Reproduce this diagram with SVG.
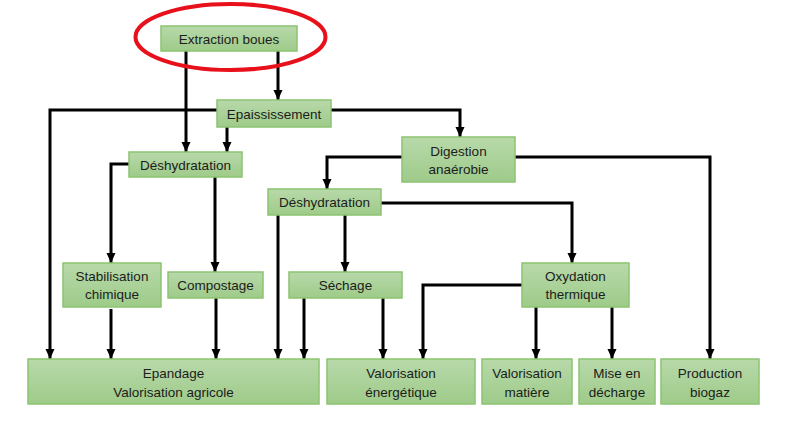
<svg xmlns="http://www.w3.org/2000/svg" width="800" height="432" viewBox="0 0 800 432">
<defs>
<linearGradient id="g" x1="0" y1="0" x2="0" y2="1">
<stop offset="0" stop-color="#b8d9aa"/>
<stop offset="1" stop-color="#9ecb89"/>
</linearGradient>
<marker id="ah" markerUnits="userSpaceOnUse" markerWidth="12" markerHeight="12" viewBox="0 0 12 12" refX="10" refY="6" orient="auto">
<path d="M0,1.5 L10,6 L0,10.5 Z" fill="#000"/>
</marker>
<style>
.box{fill:url(#g);stroke:#8cc371;stroke-width:1.5}
.t{font-family:"Liberation Sans",Arial,sans-serif;font-size:13.5px;fill:#1c1c1c;text-anchor:middle}
.c{fill:none;stroke:#000;stroke-width:3}
.a{marker-end:url(#ah)}
</style>
</defs>
<rect width="800" height="432" fill="#fff"/>
<g id="connectors">
<path class="c a" d="M186,51 V152"/>
<path class="c a" d="M278,51 V100"/>
<path class="c a" d="M227,127 V152"/>
<path class="c a" d="M217,110 H50 V359"/>
<path class="c a" d="M331,110 H460 V137"/>
<path class="c a" d="M129,164 H111 V263"/>
<path class="c a" d="M215,177 V272"/>
<path class="c a" d="M111,309 V359"/>
<path class="c a" d="M216,298 V359"/>
<path class="c a" d="M402,157 H327 V189"/>
<path class="c a" d="M515,157 H710 V359"/>
<path class="c a" d="M381,203 H572 V263"/>
<path class="c a" d="M278,215 V359"/>
<path class="c a" d="M345,215 V272"/>
<path class="c a" d="M304,298 V359"/>
<path class="c a" d="M383,298 V359"/>
<path class="c a" d="M522,285 H423 V359"/>
<path class="c a" d="M536,307 V359"/>
<path class="c a" d="M612,307 V359"/>
</g>
<g id="extraction">
<rect class="box" x="161" y="26" width="136" height="25"/>
<text class="t" x="229" y="43.5">Extraction boues</text>
</g>
<ellipse id="highlight" cx="230.5" cy="37" rx="95" ry="33" fill="none" stroke="#e8101a" stroke-width="4"/>
<g id="epaississement">
<rect class="box" x="217" y="100" width="114" height="27"/>
<text class="t" x="274" y="118.5">Epaississement</text>
</g>
<g id="deshydratation1">
<rect class="box" x="129" y="152" width="113" height="25"/>
<text class="t" x="185.5" y="169.5">Déshydratation</text>
</g>
<g id="digestion">
<rect class="box" x="402" y="137" width="113" height="45"/>
<text class="t" x="458.5" y="156">Digestion</text>
<text class="t" x="458.5" y="174">anaérobie</text>
</g>
<g id="deshydratation2">
<rect class="box" x="268" y="189" width="113" height="26"/>
<text class="t" x="324.5" y="207">Déshydratation</text>
</g>
<g id="stabilisation">
<rect class="box" x="63" y="263" width="98" height="44"/>
<text class="t" x="112" y="281">Stabilisation</text>
<text class="t" x="112" y="299">chimique</text>
</g>
<g id="compostage">
<rect class="box" x="168" y="272" width="95" height="26"/>
<text class="t" x="215.5" y="290">Compostage</text>
</g>
<g id="sechage">
<rect class="box" x="289" y="272" width="113" height="26"/>
<text class="t" x="345.5" y="290">Séchage</text>
</g>
<g id="oxydation">
<rect class="box" x="522" y="263" width="107" height="44"/>
<text class="t" x="575.5" y="281">Oxydation</text>
<text class="t" x="575.5" y="299">thermique</text>
</g>
<g id="epandage">
<rect class="box" x="28" y="359" width="291" height="45"/>
<text class="t" x="173.5" y="377.5">Epandage</text>
<text class="t" x="173.5" y="396.5">Valorisation agricole</text>
</g>
<g id="valorisation-energetique">
<rect class="box" x="327" y="359" width="148" height="45"/>
<text class="t" x="401" y="377.5">Valorisation</text>
<text class="t" x="401" y="396.5">énergétique</text>
</g>
<g id="valorisation-matiere">
<rect class="box" x="482" y="359" width="90" height="45"/>
<text class="t" x="527" y="377.5">Valorisation</text>
<text class="t" x="527" y="396.5">matière</text>
</g>
<g id="mise-en-decharge">
<rect class="box" x="579" y="359" width="76" height="45"/>
<text class="t" x="617" y="377.5">Mise en</text>
<text class="t" x="617" y="396.5">décharge</text>
</g>
<g id="production-biogaz">
<rect class="box" x="661" y="359" width="98" height="45"/>
<text class="t" x="710" y="377.5">Production</text>
<text class="t" x="710" y="396.5">biogaz</text>
</g>
</svg>
